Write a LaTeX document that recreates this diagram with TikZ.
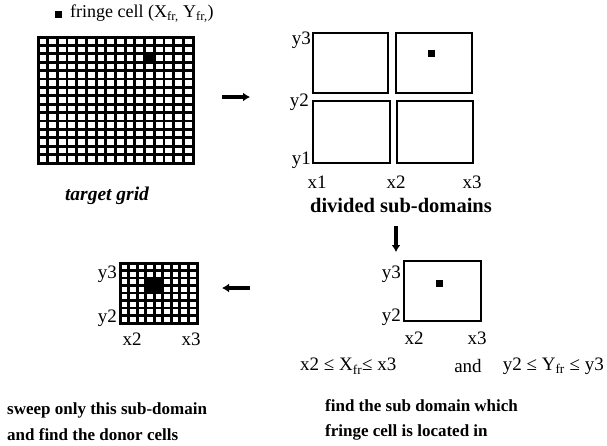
\documentclass[tikz,border=0pt]{standalone}
\usepackage{fontspec}
\setmainfont{Liberation Serif}
\usetikzlibrary{arrows.meta}
\begin{document}
\begin{tikzpicture}[x=1pt,y=-1pt,
  lbl/.style={font=\fontsize{19}{21}\selectfont, inner sep=0pt},
  captxt/.style={font=\fontsize{17}{19}\selectfont\bfseries, inner sep=0pt},
  gridline/.style={line width=2.8pt},
  box/.style={line width=1.8pt},
  bigarrow/.style={line width=3.4pt, -{Latex[length=7pt,width=9pt]}}
]
\useasboundingbox (0,0) rectangle (607,445);

% legend
\fill (55,11) rectangle (62,18);
\node[lbl, anchor=west, font=\fontsize{18}{20}\selectfont] (legend) at (70,14) {fringe cell (X\textsubscript{fr,} Y\textsubscript{fr,})};

% target grid 16 x 15
\fill (38+11*9.6875,37+2*8.4) rectangle (38+12*9.6875,37+3*8.4);
\foreach \i in {0,...,16} \draw[gridline] (38+\i*9.6875,37) -- (38+\i*9.6875,163);
\foreach \j in {0,...,15} \draw[gridline] (38,37+\j*8.4) -- (193,37+\j*8.4);
\draw[line width=3pt] (38,37) rectangle (193,163);
\node[captxt, font=\fontsize{19.5}{21}\selectfont\bfseries\itshape] (tg) at (107,196) {target grid};

% arrow right
\coordinate (ar1) at (222,97);
\coordinate (ar2) at (250,97);
\draw[bigarrow] (ar1) -- (ar2);

% divided sub-domains
\draw[box] (313,33) rectangle (388,93);
\draw[box] (396,33) rectangle (472,93);
\draw[box] (313,101) rectangle (390,163);
\draw[box] (397,101) rectangle (473,163);
\fill (428,50) rectangle (435,57);
\node[lbl, anchor=east] (dy3) at (311,40) {y3};
\node[lbl, anchor=east] (dy2) at (309,102) {y2};
\node[lbl, anchor=east] (dy1) at (311,160) {y1};
\node[lbl] (dx1) at (317,182) {x1};
\node[lbl] (dx2) at (396,182) {x2};
\node[lbl] (dx3) at (472,182) {x3};
\node[captxt, font=\fontsize{20.5}{22}\selectfont\bfseries] (ds) at (401,206) {divided sub-domains};

% down arrow
\coordinate (ad1) at (396,226);
\coordinate (ad2) at (396,252);
\draw[bigarrow] (ad1) -- (ad2);

% single sub-domain
\draw[box] (404,261) rectangle (481,321);
\fill (436,280) rectangle (443,287);
\node[lbl, anchor=east] (sy3) at (401,274) {y3};
\node[lbl, anchor=east] (sy2) at (401,317) {y2};
\node[lbl] (sx2) at (414,338) {x2};
\node[lbl] (sx3) at (477,338) {x3};

% condition
\node[lbl, anchor=west] (c1) at (300,366) {x2 ≤ X\textsubscript{fr}≤ x3};
\node[lbl] (cand) at (468,366) {and};
\node[lbl, anchor=east] (c2) at (604,366) {y2 ≤ Y\textsubscript{fr} ≤ y3};

% left arrow
\coordinate (al1) at (250,288);
\coordinate (al2) at (222,288);
\draw[bigarrow] (al1) -- (al2);

% zoomed grid 9 x 8
\fill (120+3*8.5556,263+2*7.5) rectangle (120+5*8.5556,263+4*7.5);
\foreach \i in {0,...,9} \draw[gridline] (120+\i*8.5556,263) -- (120+\i*8.5556,323);
\foreach \j in {0,...,8} \draw[gridline] (120,263+\j*7.5) -- (197,263+\j*7.5);
\draw[line width=3pt] (120,263) rectangle (197,323);
\node[lbl, anchor=east] (zy3) at (117,274) {y3};
\node[lbl, anchor=east] (zy2) at (117,318) {y2};
\node[lbl] (zx2) at (132,339) {x2};
\node[lbl] (zx3) at (191,339) {x3};

% captions
\node[captxt, anchor=west] (l1) at (7,410) {sweep only this sub-domain};
\node[captxt, anchor=west] (l2) at (7,435) {and find the donor cells};
\node[captxt, anchor=west] (r1) at (325,406) {find the sub domain which};
\node[captxt, anchor=west] (r2) at (325,432) {fringe cell is located in};
\end{tikzpicture}
\end{document}
